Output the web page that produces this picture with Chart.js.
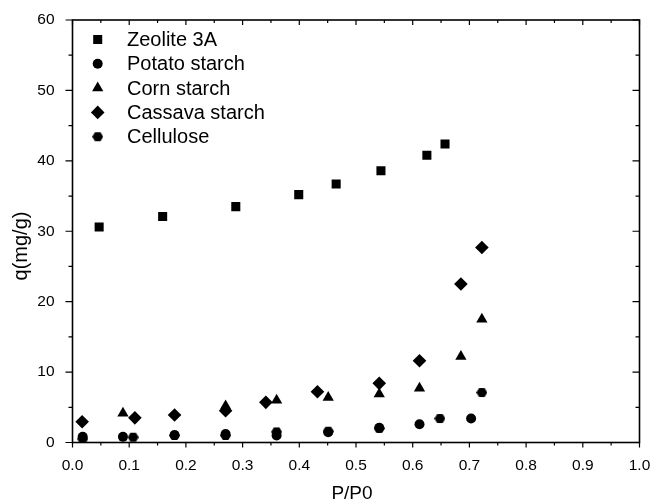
<!DOCTYPE html>
<html>
<head>
<meta charset="utf-8">
<script src="https://cdn.jsdelivr.net/npm/chart.js@4.4.1/dist/chart.umd.min.js"></script>
<style>
  html, body { margin: 0; padding: 0; background: #fff; }
  #wrap { width: 653px; height: 502px; }
</style>
</head>
<body>
<div id="wrap"><canvas id="myChart" width="653" height="502"></canvas></div>
<script>
// values (x = P/P0, y = q in mg/g)
var zeoliteX = [0.047, 0.159, 0.288, 0.399, 0.465, 0.544, 0.625, 0.657];
var zeoliteY = [30.6, 32.1, 33.5, 35.2, 36.7, 38.6, 40.8, 42.4];

var potatoX = [0.018, 0.089, 0.180, 0.270, 0.360, 0.451, 0.541, 0.612, 0.703];
var potatoY = [0.8, 0.8, 1.07, 1.2, 1.0, 1.45, 2.1, 2.6, 3.4];

var cornX = [0.089, 0.270, 0.360, 0.451, 0.541, 0.612, 0.685, 0.722];
var cornY = [4.15, 5.2, 6.0, 6.4, 6.9, 7.7, 12.2, 17.5];

var cassavaX = [0.017, 0.110, 0.180, 0.270, 0.341, 0.432, 0.541, 0.612, 0.685, 0.722];
var cassavaY = [2.95, 3.5, 3.9, 4.5, 5.7, 7.2, 8.4, 11.6, 22.5, 27.7];

var celluloseX = [0.018, 0.107, 0.180, 0.270, 0.360, 0.451, 0.541, 0.648, 0.722];
var celluloseY = [0.5, 0.75, 1.0, 1.0, 1.5, 1.6, 2.0, 3.4, 7.1];

var seriesNames = ['Zeolite 3A', 'Potato starch', 'Corn starch', 'Cassava starch', 'Cellulose'];
var xTicks = [0, 0.1, 0.2, 0.3, 0.4, 0.5, 0.6, 0.7, 0.8, 0.9, 1.0];
var yTicks = [0, 10, 20, 30, 40, 50, 60];
var xTitle = 'P/P0';
var yTitle = 'q(mg/g)';

var FONT = "'Liberation Sans', Arial, sans-serif";

function toPoints(xs, ys) {
    var pts = [];
    for (var i = 0; i < xs.length; i++) {
        pts.push({ x: xs[i], y: ys[i] });
    }
    return pts;
}

// small hexagon marker for cellulose
function makeHexagon(size) {
    var c = document.createElement('canvas');
    c.width = size;
    c.height = size;
    var g = c.getContext('2d');
    var r = size / 2;
    g.fillStyle = '#000';
    g.beginPath();
    for (var k = 0; k < 6; k++) {
        var ang = Math.PI / 3 * k;
        var px = r + r * Math.cos(ang);
        var py = r + r * 0.92 * Math.sin(ang);
        if (k === 0) g.moveTo(px, py); else g.lineTo(px, py);
    }
    g.closePath();
    g.fill();
    return c;
}
var hexagon = makeHexagon(11);

var styles = [
    { pointStyle: 'rect', radius: 6.4 },
    { pointStyle: 'circle', radius: 5 },
    { pointStyle: 'triangle', radius: 6.5 },
    { pointStyle: 'rectRot', radius: 6.8 },
    { pointStyle: hexagon, radius: 5.5 }
];

var allX = [zeoliteX, potatoX, cornX, cassavaX, celluloseX];
var allY = [zeoliteY, potatoY, cornY, cassavaY, celluloseY];

var datasets = [];
for (var s = 0; s < seriesNames.length; s++) {
    datasets.push({
        label: seriesNames[s],
        data: toPoints(allX[s], allY[s]),
        pointStyle: styles[s].pointStyle,
        pointRadius: styles[s].radius,
        pointHoverRadius: styles[s].radius,
        backgroundColor: '#000',
        borderColor: '#000',
        borderWidth: 0,
        showLine: false
    });
}

// frame with major/minor ticks, outward on left/bottom and inward on top/right
var frameTicks = {
    id: 'frameTicks',
    afterDraw: function (chart) {
        var ctx = chart.ctx;
        var a = chart.chartArea;
        var xs = chart.scales.x;
        var ys = chart.scales.y;
        ctx.save();
        ctx.strokeStyle = '#000';
        ctx.lineWidth = 1.6;
        ctx.strokeRect(a.left, a.top, a.right - a.left, a.bottom - a.top);
        ctx.lineWidth = 1.2;
        ctx.beginPath();
        for (var i = 0; i <= 20; i++) {
            var px = xs.getPixelForValue(i * 0.05);
            var len = (i % 2 === 0) ? 5 : 3;
            ctx.moveTo(px, a.bottom);
            ctx.lineTo(px, a.bottom + len);
            ctx.moveTo(px, a.top);
            ctx.lineTo(px, a.top + len);
        }
        for (var j = 0; j <= 12; j++) {
            var py = ys.getPixelForValue(j * 5);
            var ylen = (j % 2 === 0) ? 7 : 4;
            ctx.moveTo(a.left, py);
            ctx.lineTo(a.left - ylen, py);
            ctx.moveTo(a.right, py);
            ctx.lineTo(a.right - ylen, py);
        }
        ctx.stroke();

        // axis titles
        ctx.fillStyle = '#000';
        ctx.font = '19px ' + FONT;
        ctx.textAlign = 'center';
        ctx.textBaseline = 'middle';
        ctx.fillText(xTitle, 352, 494);
        ctx.translate(21, 246);
        ctx.rotate(-Math.PI / 2);
        ctx.font = '20px ' + FONT;
        ctx.fillText(yTitle, 0, 0);
        ctx.restore();
    }
};

// legend drawn inside the plot, top left
var innerLegend = {
    id: 'innerLegend',
    afterDraw: function (chart) {
        var ctx = chart.ctx;
        ctx.save();
        ctx.fillStyle = '#000';
        ctx.strokeStyle = '#000';
        ctx.font = '20px ' + FONT;
        ctx.textBaseline = 'middle';
        ctx.textAlign = 'left';
        for (var i = 0; i < chart.data.datasets.length; i++) {
            var ds = chart.data.datasets[i];
            var y = 39.5 + i * 24.3;
            Chart.helpers.drawPoint(ctx, {
                pointStyle: ds.pointStyle,
                radius: ds.pointRadius,
                rotation: 0,
                borderWidth: 0
            }, 97.7, y);
            ctx.fillText(ds.label, 127, y + 1);
        }
        ctx.restore();
    }
};

var ctx = document.getElementById('myChart').getContext('2d');
var myChart = new Chart(ctx, {
    type: 'scatter',
    data: { datasets: datasets },
    plugins: [frameTicks, innerLegend],
    options: {
        responsive: false,
        animation: false,
        layout: { padding: { top: 20, right: 13.5, left: 0, bottom: 0 } },
        plugins: {
            legend: { display: false },
            tooltip: { enabled: false }
        },
        scales: {
            x: {
                type: 'linear',
                min: 0,
                max: 1.0,
                afterFit: function (scale) {
                    scale.height = 59.5;
                    scale.paddingLeft = 0;
                    scale.paddingRight = 0;
                },
                afterBuildTicks: function (scale) {
                    scale.ticks = xTicks.map(function (v) { return { value: v }; });
                },
                grid: { display: false, drawTicks: false },
                border: { display: false },
                ticks: {
                    color: '#000',
                    padding: 14,
                    maxRotation: 0,
                    autoSkip: false,
                    font: { family: FONT, size: 15.5 },
                    callback: function (v) { return v.toFixed(1); }
                },
                title: { display: false }
            },
            y: {
                type: 'linear',
                min: 0,
                max: 60,
                afterFit: function (scale) {
                    scale.width = 72.5;
                    scale.paddingTop = 0;
                    scale.paddingBottom = 0;
                },
                afterBuildTicks: function (scale) {
                    scale.ticks = yTicks.map(function (v) { return { value: v }; });
                },
                grid: { display: false, drawTicks: false },
                border: { display: false },
                ticks: {
                    color: '#000',
                    padding: 18,
                    font: { family: FONT, size: 15.5 }
                },
                title: { display: false }
            }
        }
    }
});
</script>
</body>
</html>
